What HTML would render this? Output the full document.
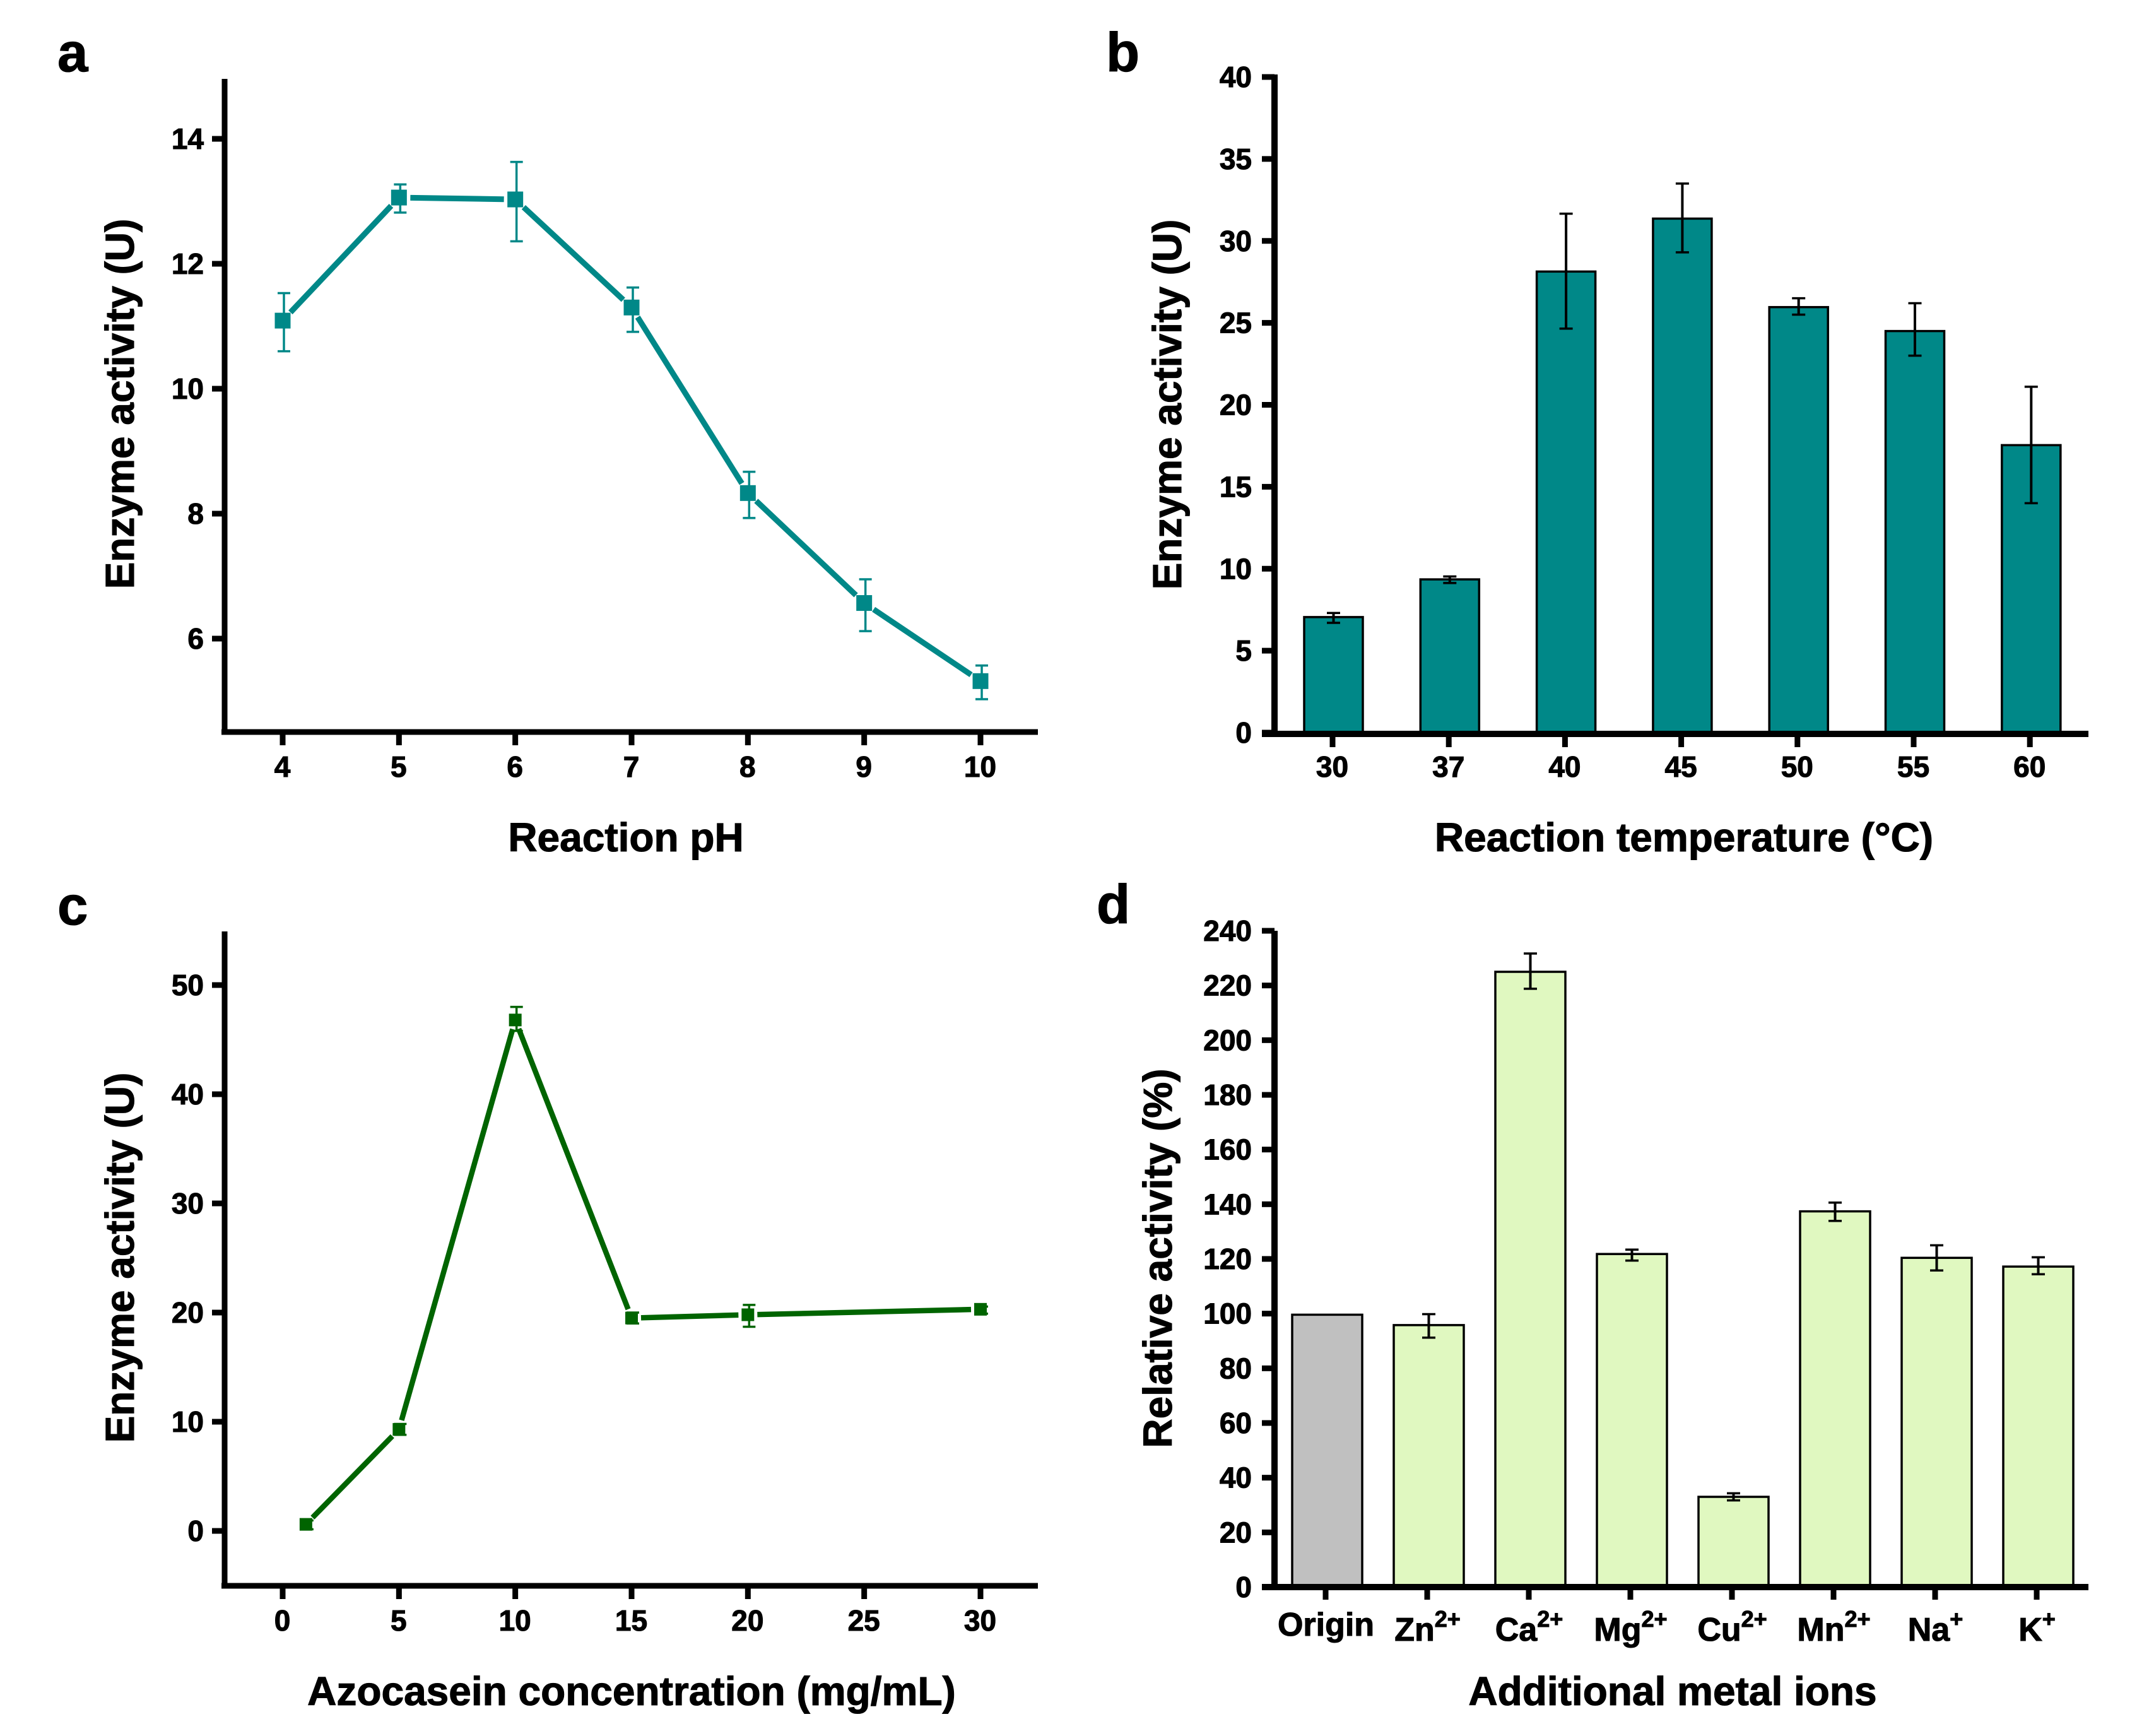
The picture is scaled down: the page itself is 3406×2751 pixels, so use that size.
<!DOCTYPE html>
<html lang="en">
<head>
<meta charset="utf-8">
<title>Enzyme activity characterization</title>
<style>
html,body{margin:0;padding:0;background:#fff;}
svg{display:block;}
text{font-family:"Liberation Sans",Arial,sans-serif;font-weight:700;fill:#000;stroke:#000;stroke-width:1.1px;}
</style>
</head>
<body>
<svg id="figure" xmlns="http://www.w3.org/2000/svg" width="3406" height="2751" viewBox="0 0 3406 2751">
  <rect width="3406" height="2751" fill="#fff"/>
  <text x="91" y="113" font-size="87">a</text>
  <text x="1753" y="113" font-size="87">b</text>
  <text x="91" y="1465" font-size="87">c</text>
  <text x="1738" y="1463" font-size="87">d</text>

  <text font-size="64" text-anchor="middle" transform="translate(212 640) rotate(-90)">Enzyme activity (U)</text>
  <text font-size="64" text-anchor="middle" x="992" y="1349">Reaction pH</text>

  <text font-size="64" text-anchor="middle" transform="translate(1872 641) rotate(-90)">Enzyme activity (U)</text>
  <text font-size="64" text-anchor="middle" x="2669" y="1349">Reaction temperature (°C)</text>

  <text font-size="64" text-anchor="middle" transform="translate(212 1993) rotate(-90)">Enzyme activity (U)</text>
  <text font-size="64" text-anchor="middle" x="1001" y="2702">Azocasein concentration (mg/mL)</text>

  <text font-size="64" text-anchor="middle" transform="translate(1857 1994) rotate(-90)">Relative activity (%)</text>
  <text font-size="64" text-anchor="middle" x="2651" y="2702">Additional metal ions</text>
</svg>
<script>
// Panel a data
const phCategories = [4, 5, 6, 7, 8, 9, 10];
const phValues = [11.09, 13.06, 13.03, 11.30, 8.33, 6.57, 5.32];
const phErrHigh = [11.53, 13.27, 13.63, 11.62, 8.67, 6.95, 5.57];
const phErrLow = [10.60, 12.82, 12.36, 10.91, 7.93, 6.12, 5.03];
const phXTicks = [4, 5, 6, 7, 8, 9, 10];
const phYTicks = [6, 8, 10, 12, 14];

// Panel b data
const tempCategories = ['30', '37', '40', '45', '50', '55', '60'];
const tempValues = [7.05, 9.35, 28.13, 31.36, 25.96, 24.5, 17.54];
const tempErrHigh = [7.3, 9.53, 31.66, 33.5, 26.5, 26.2, 21.1];
const tempErrLow = [6.7, 9.13, 24.65, 29.3, 25.5, 23.0, 14.0];
const tempYTicks = [0, 5, 10, 15, 20, 25, 30, 35, 40];

// Panel c data
const concCategories = [1, 5, 10, 15, 20, 30];
const concValues = [0.6, 9.3, 46.8, 19.5, 19.8, 20.3];
const concErrHigh = [0.96, 9.8, 48.0, 20.0, 20.7, 20.55];
const concErrLow = [0.15, 8.8, 45.8, 19.0, 18.7, 19.9];
const concXTicks = [0, 5, 10, 15, 20, 25, 30];
const concYTicks = [0, 10, 20, 30, 40, 50];

// Panel d data
const ionNames = ['Origin', 'Zn', 'Ca', 'Mg', 'Cu', 'Mn', 'Na', 'K'];
const ionCharges = ['', '2+', '2+', '2+', '2+', '2+', '+', '+'];
const ionValues = [99.6, 95.8, 225, 121.8, 33, 137.4, 120.4, 117.2];
const ionErrHigh = [null, 99.8, 231.7, 123.4, 34.3, 140.6, 125, 120.6];
const ionErrLow = [null, 91.2, 218.8, 119.4, 31.7, 133.9, 115.8, 114.4];
const ionYTicks = [0, 20, 40, 60, 80, 100, 120, 140, 160, 180, 200, 220, 240];

const NS = 'http://www.w3.org/2000/svg';
const svg = document.getElementById('figure');

function mk(parent, tag, attrs) {
  const el = document.createElementNS(NS, tag);
  for (const k in attrs) el.setAttribute(k, attrs[k]);
  parent.appendChild(el);
  return el;
}

function linear(d0, d1, r0, r1) {
  return v => r0 + (v - d0) * (r1 - r0) / (d1 - d0);
}

function newGroup(name) {
  const g = mk(svg, 'g', {});
  
  
  return g;
}

function drawAxes(g, ax) {
  const yLine = mk(g, 'rect', {x: ax.axisX - ax.thick / 2, y: ax.top, width: ax.thick, height: ax.axisY + ax.thick / 2 - ax.top, fill: '#000'});
  
  
  const xLine = mk(g, 'rect', {x: ax.xStart, y: ax.axisY - ax.thick / 2, width: ax.xEnd - ax.xStart, height: ax.thick, fill: '#000'});
  
  
}

function drawYTicks(g, ticks, y, ax) {
  ticks.forEach(t => {
    const tick = mk(g, 'rect', {x: ax.axisX - 20, y: y(t) - 4.5, width: 20, height: 9, fill: '#000'});
    
    
    const label = mk(g, 'text', {x: ax.labelRight, y: y(t) + 16, 'font-size': 46, 'text-anchor': 'end'});
    label.textContent = String(t);
    
    
  });
}

function drawXTicks(g, ticks, x, ax) {
  ticks.forEach((t, i) => {
    const cx = x(t, i);
    const tick = mk(g, 'rect', {x: cx - 4.5, y: ax.axisY, width: 9, height: 21, fill: '#000'});
    
    
    const label = mk(g, 'text', {x: cx - 0.5, y: ax.labelBase, 'font-size': 46, 'text-anchor': 'middle'});
    label.textContent = String(t);
    
    
  });
}

function drawLineSeries(g, xs, vals, hi, lo, x, y, st) {
  for (let i = 0; i < xs.length - 1; i++) {
    const x1 = x(xs[i]), y1 = y(vals[i]), x2 = x(xs[i + 1]), y2 = y(vals[i + 1]);
    const len = Math.hypot(x2 - x1, y2 - y1);
    const ux = (x2 - x1) / len, uy = (y2 - y1) / len;
    const seg = mk(g, 'line', {
      x1: x1 + ux * st.gap, y1: y1 + uy * st.gap,
      x2: x2 - ux * st.gap, y2: y2 - uy * st.gap,
      stroke: st.color, 'stroke-width': st.width
    });
    
    
  }
  xs.forEach((c, i) => {
    const cx = x(c);
    const ex = cx + 2;
    const stem = mk(g, 'line', {x1: ex, x2: ex, y1: y(hi[i]), y2: y(lo[i]), stroke: st.color, 'stroke-width': 3.5});
    
    
    const capTop = mk(g, 'line', {x1: ex - 10, x2: ex + 10, y1: y(hi[i]), y2: y(hi[i]), stroke: st.color, 'stroke-width': 3.5});
    
    
    const capBottom = mk(g, 'line', {x1: ex - 10, x2: ex + 10, y1: y(lo[i]), y2: y(lo[i]), stroke: st.color, 'stroke-width': 3.5});
    
    
    const marker = mk(g, 'rect', {
      x: cx - st.size / 2, y: y(vals[i]) - st.size / 2,
      width: st.size, height: st.size, fill: st.color
    });
    
    
  });
}

function drawBars(g, vals, hi, lo, x, y, base, st) {
  vals.forEach((v, i) => {
    const cx = x(i);
    const bar = mk(g, 'rect', {
      x: cx - st.width / 2, y: y(v), width: st.width, height: base - y(v),
      fill: st.fill(i), stroke: '#000', 'stroke-width': 3.5
    });
    
    
  });
  vals.forEach((v, i) => {
    if (hi[i] === null) return;
    const cx = x(i);
    const stem = mk(g, 'line', {x1: cx, x2: cx, y1: y(hi[i]), y2: y(lo[i]), stroke: '#000', 'stroke-width': 4});
    
    
    const capTop = mk(g, 'line', {x1: cx - 10.5, x2: cx + 10.5, y1: y(hi[i]), y2: y(hi[i]), stroke: '#000', 'stroke-width': 3.5});
    
    
    const capBottom = mk(g, 'line', {x1: cx - 10.5, x2: cx + 10.5, y1: y(lo[i]), y2: y(lo[i]), stroke: '#000', 'stroke-width': 3.5});
    
    
  });
}

// Panel a
(function () {
  const g = newGroup('panel-a-ph-chart');
  const ax = {axisX: 356, axisY: 1160, top: 125, xStart: 351, xEnd: 1645, labelRight: 323, labelBase: 1231, thick: 9};
  const x = linear(4, 10, 448, 1554);
  const y = linear(6, 14, 1012, 220);
  drawLineSeries(g, phCategories, phValues, phErrHigh, phErrLow, x, y, {color: '#008888', width: 9, gap: 18, size: 25});
  drawAxes(g, ax);
  drawYTicks(g, phYTicks, y, ax);
  drawXTicks(g, phXTicks, x, ax);
})();

// Panel b
(function () {
  const g = newGroup('panel-b-temperature-chart');
  const ax = {axisX: 2020, axisY: 1163, top: 118, xStart: 2000, xEnd: 3310, labelRight: 1984, labelBase: 1231, thick: 10};
  const xBar = i => 2113.5 + i * 184.3;
  const y = linear(0, 40, 1161, 122);
  drawBars(g, tempValues, tempErrHigh, tempErrLow, xBar, y, 1163, {width: 93, fill: () => '#008888'});
  drawAxes(g, ax);
  drawYTicks(g, tempYTicks, y, ax);
  drawXTicks(g, tempCategories, (t, i) => 2112 + i * 184.2, ax);
})();

// Panel c
(function () {
  const g = newGroup('panel-c-concentration-chart');
  const ax = {axisX: 356, axisY: 2513, top: 1476, xStart: 351, xEnd: 1645, labelRight: 323, labelBase: 2584, thick: 9};
  const x = linear(0, 30, 448, 1554);
  const y = linear(0, 50, 2426, 1561);
  drawLineSeries(g, concCategories, concValues, concErrHigh, concErrLow, x, y, {color: '#006400', width: 8.5, gap: 15, size: 20});
  drawAxes(g, ax);
  drawYTicks(g, concYTicks, y, ax);
  drawXTicks(g, concXTicks, x, ax);
})();

// Panel d
(function () {
  const g = newGroup('panel-d-metal-ions-chart');
  const ax = {axisX: 2020, axisY: 2515, top: 1475, xStart: 2000, xEnd: 3310, labelRight: 1984, thick: 10};
  const xBar = i => 2103.5 + i * 161;
  const y = linear(0, 240, 2515, 1475);
  drawBars(g, ionValues, ionErrHigh, ionErrLow, xBar, y, 2515, {width: 111, fill: i => i === 0 ? '#C0C0C0' : '#E0F8C0'});
  drawAxes(g, ax);
  drawYTicks(g, ionYTicks, y, ax);
  ionNames.forEach((name, i) => {
    const cx = 2101 + i * 161;
    const tick = mk(g, 'rect', {x: cx - 4.5, y: ax.axisY, width: 9, height: 20, fill: '#000'});
    
    
    const hasCharge = ionCharges[i] !== '';
    const label = mk(g, 'text', {x: cx + 0.5, y: hasCharge ? 2600 : 2592, 'font-size': 52, 'text-anchor': 'middle'});
    
    
    const base = mk(label, 'tspan', {});
    base.textContent = name;
    
    
    if (hasCharge) {
      const sup = mk(label, 'tspan', {dy: -22, 'font-size': 36});
      sup.textContent = ionCharges[i];
      
      
    }
  });
})();
</script>
</body>
</html>
